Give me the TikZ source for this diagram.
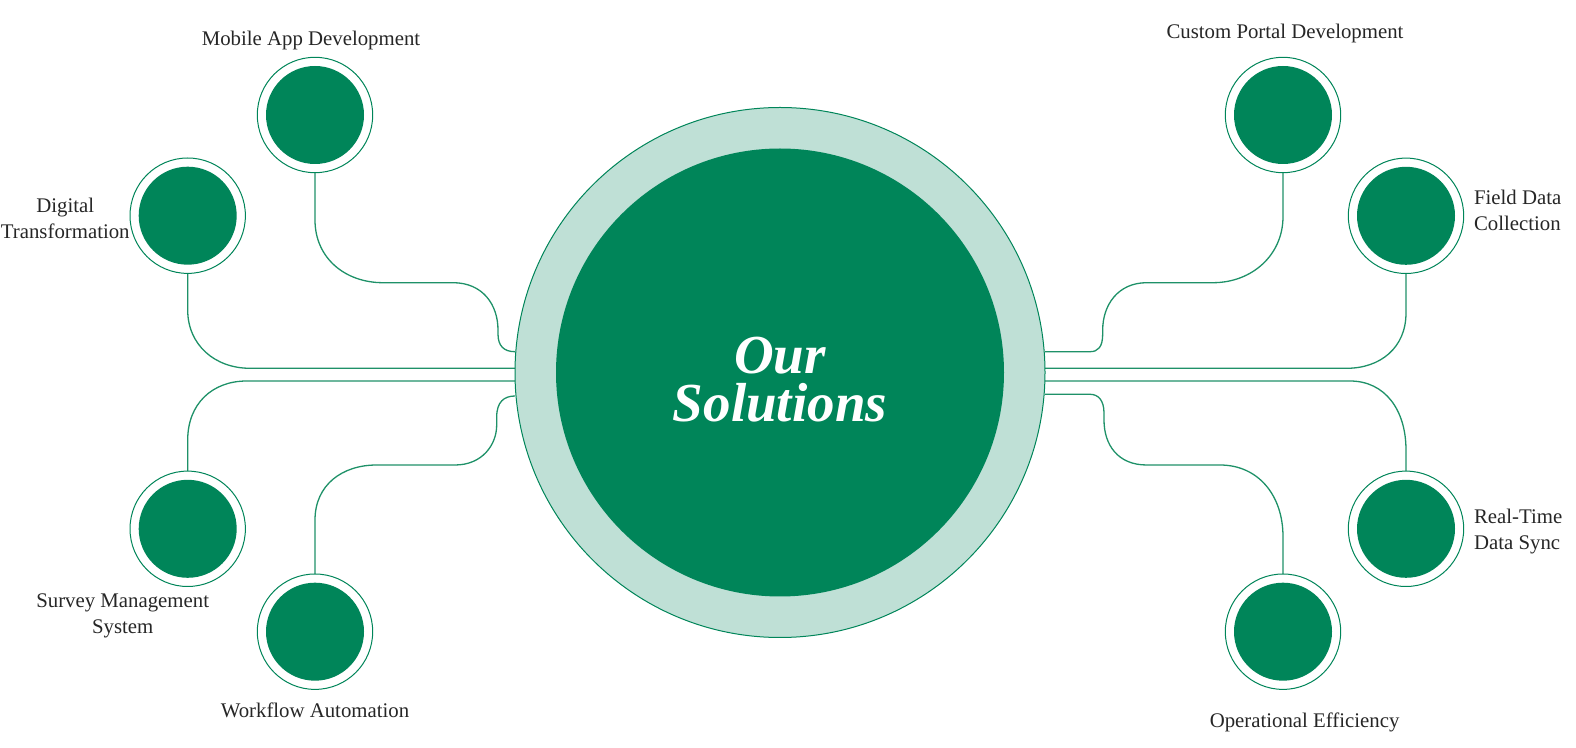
\documentclass[tikz,border=0pt]{standalone}
\usepackage{fontspec}
\setmainfont{Liberation Serif}
\usetikzlibrary{positioning,backgrounds}
\definecolor{solgreen}{RGB}{0,133,89}
\definecolor{solring}{RGB}{191,224,214}
\definecolor{solline}{RGB}{30,145,104}

\begin{document}
\begin{tikzpicture}[
    x=0.5pt,y=-0.5pt,
    line join=round,line cap=round,
    bubble/.style={circle,draw=solgreen,line width=0.5pt,fill=white,
        minimum size=57.7pt,inner sep=0pt,outer sep=0pt,
        path picture={\fill[solgreen] (path picture bounding box.center) circle (24.5pt);}},
    hub/.style={circle,draw=solgreen,line width=0.5pt,fill=solring,
        minimum size=265pt,inner sep=0pt,outer sep=0pt,
        path picture={\fill[solgreen] (path picture bounding box.center) circle (112pt);}},
    caption/.style={font=\fontsize{10.4}{13}\selectfont,text=black!85,
        inner sep=0pt,align=center},
    title/.style={font=\fontsize{27.5}{24}\selectfont\bfseries\itshape,
        text=white,inner sep=0pt,align=center},
    link/.style={draw=solline,line width=0.65pt}
  ]
    \useasboundingbox (0,0) rectangle (1576,748);

    \node [hub]    (hub)        at (780,372.5) {};
    \node [title]  (title)      at (hub.center) [yshift=-3.5pt] {Our\\Solutions};

    \node [bubble] (mobile)     at (315,115)   {};
    \node [bubble] (digital)    at (187.7,215.7) {};
    \node [bubble] (survey)     at (187.7,528.8) {};
    \node [bubble] (workflow)   at (315,631.7) {};
    \node [bubble] (portal)     at (1283,115)  {};
    \node [bubble] (field)      at (1406,215.8) {};
    \node [bubble] (realtime)   at (1406,528.8) {};
    \node [bubble] (efficiency) at (1283,631.7) {};

    \node [caption,above=3.7pt of mobile,xshift=-2pt]  (mobilecap)  {Mobile App Development};
    \node [caption,above=6.9pt of portal,xshift=1pt]   (portalcap)  {Custom Portal Development};
    \node [caption,left=0pt of digital,yshift=-1.2pt]  (digitalcap) {Digital\\Transformation};
    \node [caption,right=5pt of field,yshift=2.6pt,align=left]     (fieldcap)    {Field Data\\Collection};
    \node [caption,right=5pt of realtime,yshift=-1.2pt,align=left] (realtimecap) {Real-Time\\Data Sync};
    \node [caption,below=3.3pt of survey,xshift=-32.5pt]   (surveycap)     {Survey Management\\System};
    \node [caption,below=6.3pt of workflow]                (workflowcap)   {Workflow Automation};
    \node [caption,below=11.4pt of efficiency,xshift=10.8pt] (efficiencycap) {Operational Efficiency};

    \begin{scope}[on background layer,every path/.style=link]
        \draw (mobile.south) -- (315,220)
            .. controls (315,258) and (345,282.7) .. (383,282.7) -- (453,282.7)
            .. controls (483,282.7) and (498,305) .. (498,330) -- (498,334)
            .. controls (498,346) and (504,351.7) .. (hub.west |- 0,351.7);
        \draw (digital.south) -- (187.7,310)
            .. controls (187.7,345) and (215,368.3) .. (250,368.3)
            -- (hub.west |- 0,368.3);
        \draw (survey.north) -- (187.7,440)
            .. controls (187.7,404) and (212,381) .. (246.7,381)
            -- (hub.west |- 0,381);
        \draw (workflow.north) -- (315,520)
            .. controls (315,485) and (342,465) .. (376.7,465) -- (455,465)
            .. controls (482,465) and (496.7,445) .. (496.7,425) -- (496.7,417)
            .. controls (496.7,402) and (504,396) .. (hub.west |- 0,396);
        \draw (portal.south) -- (1283,216.7)
            .. controls (1283,255) and (1252,282.7) .. (1213,282.7) -- (1146.7,282.7)
            .. controls (1118,282.7) and (1102.7,305) .. (1102.7,330) -- (1102.7,334)
            .. controls (1102.7,347) and (1098,351.7) .. (1090,351.7)
            -- (hub.east |- 0,351.7);
        \draw (field.south) -- (1406,313)
            .. controls (1406,348) and (1380,368.3) .. (1346.7,368.3)
            -- (hub.east |- 0,368.3);
        \draw (realtime.north) -- (1406,450)
            .. controls (1406,410) and (1385,381) .. (1350,381)
            -- (hub.east |- 0,381);
        \draw (efficiency.north) -- (1283,536.7)
            .. controls (1283,495) and (1258,465) .. (1220,465) -- (1146.7,465)
            .. controls (1118,465) and (1104,445) .. (1104,420) -- (1104,413)
            .. controls (1104,400) and (1098,394.3) .. (1090,394.3)
            -- (hub.east |- 0,394.3);
    \end{scope}
\end{tikzpicture}
\end{document}
